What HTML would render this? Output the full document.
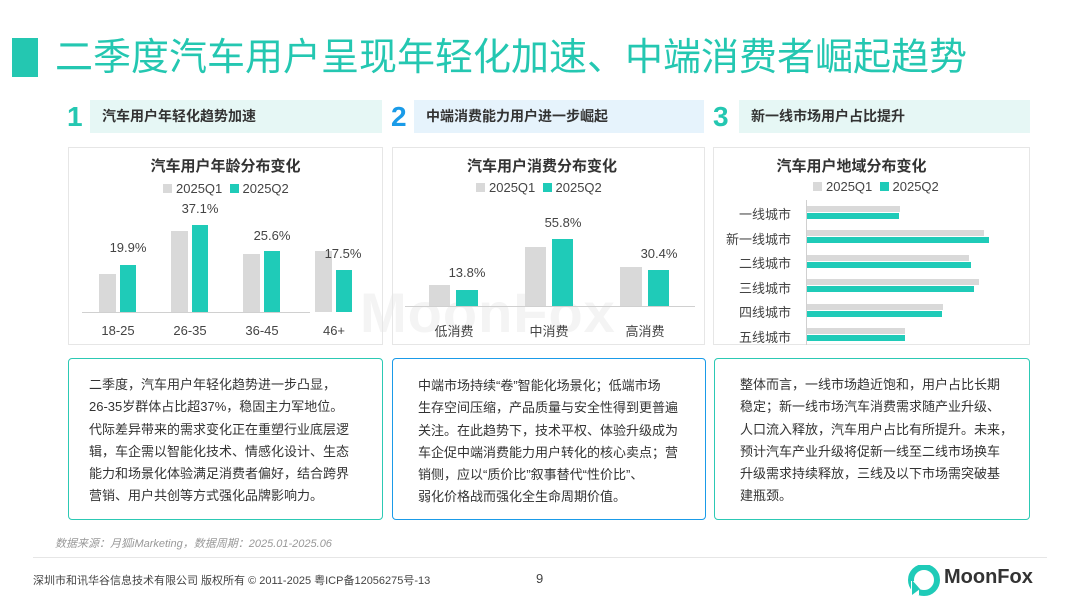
<!DOCTYPE html>
<html><head><meta charset="utf-8"><style>
*{margin:0;padding:0;box-sizing:border-box}
body{width:1080px;height:607px;background:#fff;position:relative;overflow:hidden;font-family:"Liberation Sans","Noto Sans CJK SC",sans-serif;color:#333}
.a{position:absolute}
.num{position:absolute;font-size:28px;font-weight:bold;top:100px;line-height:34px}
.hd{position:absolute;top:100px;height:33px;line-height:33px;font-size:14px;font-weight:bold;padding-left:12px;color:#333}
.panel{position:absolute;top:147px;height:198px;border:1px solid #e6e6e6}
.tb{position:absolute;top:358px;height:162px;border:1.5px solid #2cc9b4;border-radius:4px;font-size:13px;line-height:22.3px;color:#333;white-space:nowrap}
.ct{position:absolute;font-size:15px;font-weight:bold;color:#333;text-align:center}
.lg{position:absolute;font-size:13px;color:#444;white-space:nowrap}
.lg i{display:inline-block;width:9px;height:9px;margin-right:4px;vertical-align:0}
.g{background:#d9d9d9}.t{background:#1fcbb8}
.lb{position:absolute;font-size:13px;color:#444;text-align:center;width:60px}
</style></head><body>
<div class="a" style="left:360px;top:280px;font-size:56px;font-weight:bold;color:#f4f4f4;letter-spacing:1px">MoonFox</div>
<div class="a" style="left:12px;top:38px;width:26px;height:39px;background:#24c7b1"></div>
<div class="a" style="left:55px;top:35px;font-size:38px;line-height:46px;color:#24c7b1;white-space:nowrap">二季度汽车用户呈现年轻化加速、中端消费者崛起趋势</div>

<div class="num" style="left:67px;color:#24c7b1">1</div>
<div class="hd" style="left:90px;width:292px;background:#e6f7f5">汽车用户年轻化趋势加速</div>
<div class="num" style="left:391px;color:#1a9be8">2</div>
<div class="hd" style="left:414px;width:290px;background:#e6f3fc">中端消费能力用户进一步崛起</div>
<div class="num" style="left:713px;color:#24c7b1">3</div>
<div class="hd" style="left:739px;width:291px;background:#e6f7f5">新一线市场用户占比提升</div>

<div class="panel" style="left:68px;width:315px"></div>
<div class="panel" style="left:392px;width:313px"></div>
<div class="panel" style="left:713px;width:317px"></div>

<!-- chart1 -->
<div class="ct" style="left:68px;width:315px;top:155px">汽车用户年龄分布变化</div>
<div class="lg" style="left:163px;top:181px"><i class="g"></i>2025Q1&nbsp;&nbsp;<i class="t"></i>2025Q2</div>
<div class="a" style="left:82px;top:312px;width:228px;height:1px;background:#d0d0d0"></div>
<div class="a g" style="left:99px;top:274px;width:17px;height:38px"></div>
<div class="a t" style="left:120px;top:265px;width:16px;height:47px"></div>
<div class="a g" style="left:171px;top:231px;width:17px;height:81px"></div>
<div class="a t" style="left:192px;top:225px;width:16px;height:87px"></div>
<div class="a g" style="left:243px;top:254px;width:17px;height:58px"></div>
<div class="a t" style="left:264px;top:251px;width:16px;height:61px"></div>
<div class="a g" style="left:315px;top:251px;width:17px;height:61px"></div>
<div class="a t" style="left:336px;top:270px;width:16px;height:42px"></div>
<div class="lb" style="left:98px;top:240px">19.9%</div>
<div class="lb" style="left:170px;top:201px">37.1%</div>
<div class="lb" style="left:242px;top:228px">25.6%</div>
<div class="lb" style="left:313px;top:246px">17.5%</div>
<div class="lb" style="left:88px;top:323px">18-25</div>
<div class="lb" style="left:160px;top:323px">26-35</div>
<div class="lb" style="left:232px;top:323px">36-45</div>
<div class="lb" style="left:304px;top:323px">46+</div>

<!-- chart2 -->
<div class="ct" style="left:392px;width:300px;top:155px">汽车用户消费分布变化</div>
<div class="lg" style="left:476px;top:180px"><i class="g"></i>2025Q1&nbsp;&nbsp;<i class="t"></i>2025Q2</div>
<div class="a" style="left:405px;top:306px;width:290px;height:1px;background:#d0d0d0"></div>
<div class="a g" style="left:429px;top:285px;width:21px;height:21px"></div>
<div class="a t" style="left:456px;top:290px;width:22px;height:16px"></div>
<div class="a g" style="left:525px;top:247px;width:21px;height:59px"></div>
<div class="a t" style="left:552px;top:239px;width:21px;height:67px"></div>
<div class="a g" style="left:620px;top:267px;width:22px;height:39px"></div>
<div class="a t" style="left:648px;top:270px;width:21px;height:36px"></div>
<div class="lb" style="left:437px;top:265px">13.8%</div>
<div class="lb" style="left:533px;top:215px">55.8%</div>
<div class="lb" style="left:629px;top:246px">30.4%</div>
<div class="lb" style="left:424px;top:321px">低消费</div>
<div class="lb" style="left:519px;top:321px">中消费</div>
<div class="lb" style="left:615px;top:321px">高消费</div>

<!-- chart3 -->
<div class="ct" style="left:713px;width:317px;top:155px;padding-right:40px">汽车用户地域分布变化</div>
<div class="lg" style="left:813px;top:179px"><i class="g"></i>2025Q1&nbsp;&nbsp;<i class="t"></i>2025Q2</div>
<div class="a" style="left:806px;top:200px;width:1px;height:145px;background:#d0d0d0"></div>
<div class="a g" style="left:807px;top:206px;width:93px;height:6px"></div>
<div class="a t" style="left:807px;top:213px;width:92px;height:6px"></div>
<div class="a g" style="left:807px;top:230px;width:177px;height:6px"></div>
<div class="a t" style="left:807px;top:237px;width:182px;height:6px"></div>
<div class="a g" style="left:807px;top:255px;width:162px;height:6px"></div>
<div class="a t" style="left:807px;top:262px;width:164px;height:6px"></div>
<div class="a g" style="left:807px;top:279px;width:172px;height:6px"></div>
<div class="a t" style="left:807px;top:286px;width:167px;height:6px"></div>
<div class="a g" style="left:807px;top:304px;width:136px;height:6px"></div>
<div class="a t" style="left:807px;top:311px;width:135px;height:6px"></div>
<div class="a g" style="left:807px;top:328px;width:98px;height:6px"></div>
<div class="a t" style="left:807px;top:335px;width:98px;height:6px"></div>
<div class="a" style="left:711px;top:203px;width:80px;text-align:right;font-size:13px;line-height:24.5px;color:#444">一线城市<br>新一线城市<br>二线城市<br>三线城市<br>四线城市<br>五线城市</div>

<!-- text boxes -->
<div class="tb" style="left:68px;width:315px;padding:15px 0 0 20px">二季度，汽车用户年轻化趋势进一步凸显，<br>26-35岁群体占比超37%，稳固主力军地位。<br>代际差异带来的需求变化正在重塑行业底层逻<br>辑，车企需以智能化技术、情感化设计、生态<br>能力和场景化体验满足消费者偏好，结合跨界<br>营销、用户共创等方式强化品牌影响力。</div>
<div class="tb" style="left:392px;width:314px;border-color:#1a9be8;padding:16px 0 0 25px">中端市场持续“卷”智能化场景化；低端市场<br>生存空间压缩，产品质量与安全性得到更普遍<br>关注。在此趋势下，技术平权、体验升级成为<br>车企促中端消费能力用户转化的核心卖点；营<br>销侧，应以“质价比”叙事替代“性价比”、<br>弱化价格战而强化全生命周期价值。</div>
<div class="tb" style="left:714px;width:316px;padding:15px 0 0 25px">整体而言，一线市场趋近饱和，用户占比长期<br>稳定；新一线市场汽车消费需求随产业升级、<br>人口流入释放，汽车用户占比有所提升。未来，<br>预计汽车产业升级将促新一线至二线市场换车<br>升级需求持续释放，三线及以下市场需突破基<br>建瓶颈。</div>

<div class="a" style="left:55px;top:535px;font-size:11px;font-style:italic;color:#999">数据来源：月狐iMarketing，数据周期：2025.01-2025.06</div>
<div class="a" style="left:33px;top:557px;width:1014px;height:1px;background:#e6e6e6"></div>
<div class="a" style="left:33px;top:572px;font-size:11px;color:#444">深圳市和讯华谷信息技术有限公司 版权所有 © 2011-2025 粤ICP备12056275号-13</div>
<div class="a" style="left:536px;top:571px;font-size:13px;color:#444">9</div>
<svg class="a" style="left:908px;top:565px" width="34" height="32" viewBox="0 0 34 32"><circle cx="16" cy="15" r="13" fill="none" stroke="#1fcbb8" stroke-width="6"/><rect x="3" y="16" width="8" height="14" fill="#fff"/><path d="M4 15 L4 30 L12 24 Z" fill="#1fcbb8"/></svg>
<div class="a" style="left:944px;top:566px;font-size:20px;font-weight:bold;color:#333">MoonFox</div>
</body></html>
